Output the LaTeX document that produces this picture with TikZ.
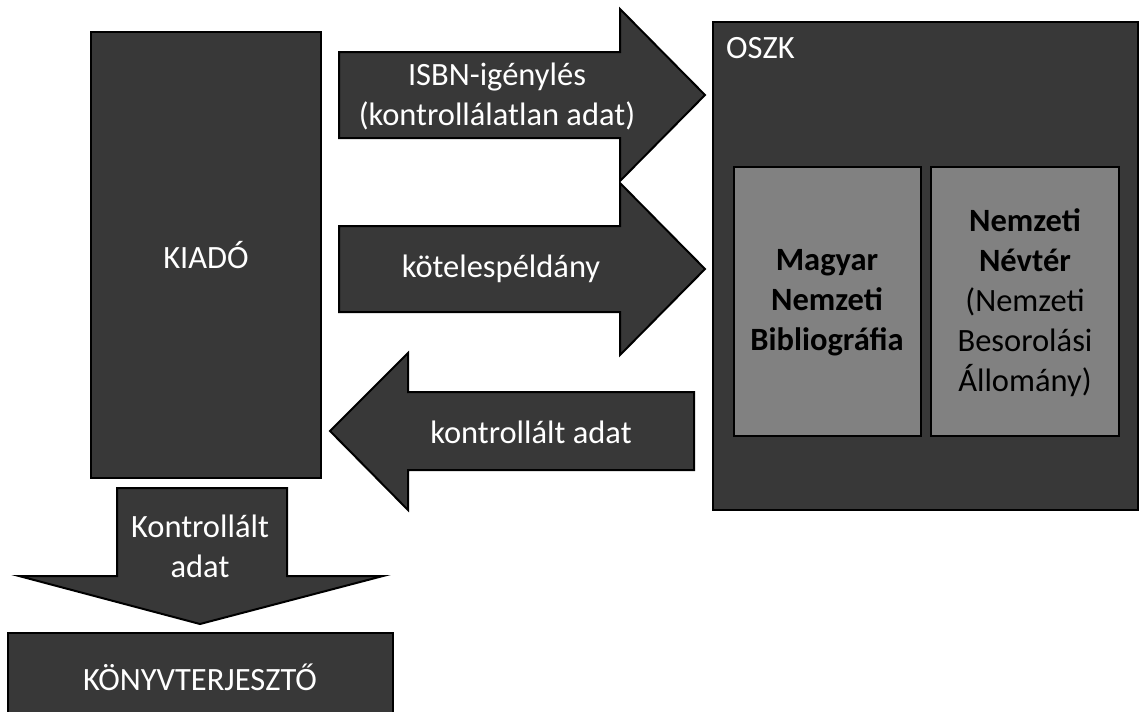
\documentclass[tikz,border=0pt]{standalone}
\usepackage{fontspec}
\setmainfont{Carlito}
\definecolor{dark}{HTML}{383838}
\definecolor{mid}{HTML}{818181}
\begin{document}
\begin{tikzpicture}[x=1pt,y=-1pt,line join=miter,font=\fontsize{32.5}{40}\selectfont,
	blk/.style={draw=black,fill=dark,line width=2pt},
	inbox/.style={draw=black,fill=mid,line width=2pt},
	lbl/.style={text=white,align=center,inner sep=0pt},
	inlbl/.style={text=black,align=center,inner sep=0pt}]
	\path[use as bounding box,clip](0,0) rectangle (1141,712);
	% boxes
	\draw[blk](91,32) rectangle (321,478);
	\node[lbl](kiado) at (206,255){KIADÓ};
	\draw[blk](713,22) rectangle (1138,510);
	\node[lbl,anchor=west](oszk) at (726,48){OSZK};
	\draw[inbox](734,167) rectangle (921,436);
	\draw[inbox](931,167) rectangle (1119,436);
	\node[inlbl](mnb) at (827,303){\bfseries Magyar\\\bfseries Nemzeti\\\bfseries Bibliográfia};
	\node[inlbl](nnt) at (1025,303){\bfseries Nemzeti\\\bfseries Névtér\\(Nemzeti\\Besorolási\\Állomány)};
	\draw[blk](8,633) rectangle (393,740);
	\node[lbl](konyv) at (200,677){KÖNYVTERJESZTŐ};
	% arrows
	\foreach \y in {95,269}
		\draw[blk](339,\y-43)--(620,\y-43)--(620,\y-86)--(705,\y)--(620,\y+86)--(620,\y+43)--(339,\y+43)--cycle;
	\draw[blk](694,392)--(408,392)--(408,353)--(330,431)--(408,510)--(408,470)--(694,470)--cycle;
	\draw[blk](117,488)--(287,488)--(287,576)--(383,576)--(200,624)--(19,576)--(117,576)--cycle;
	\node[lbl](isbn) at (497,96){ISBN-igénylés\\(kontrollálatlan adat)};
	\node[lbl](kotel) at (501,269){kötelespéldány};
	\node[lbl](kontr) at (531,432){kontrollált adat};
	\node[lbl](kontrle) at (200,546){Kontrollált\\adat};
\end{tikzpicture}
\end{document}
